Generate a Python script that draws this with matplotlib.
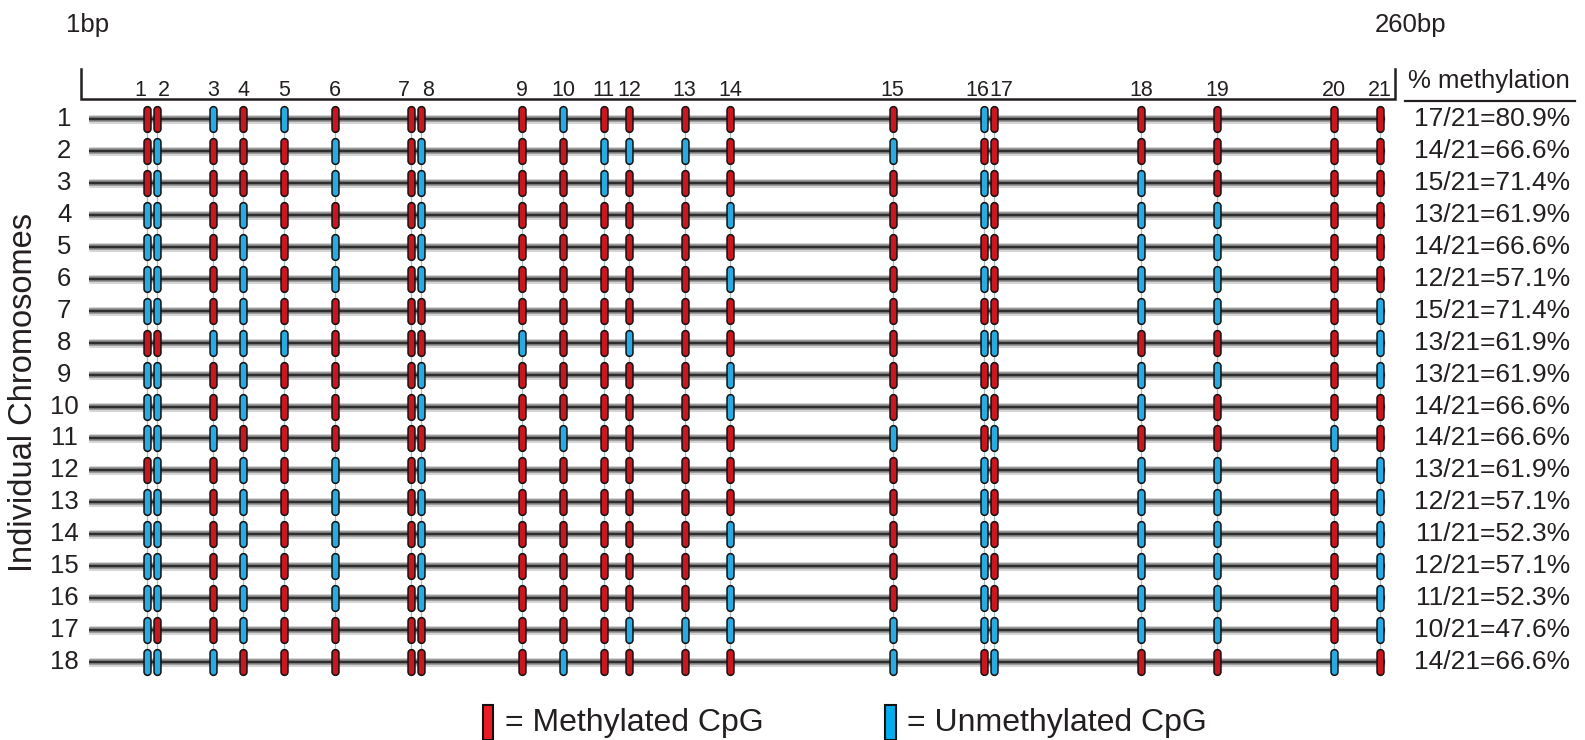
import numpy as np
import matplotlib
matplotlib.use("Agg")
import matplotlib.pyplot as plt
from matplotlib.patches import Rectangle

plt.rcParams['font.family'] = ['Liberation Sans', 'DejaVu Sans']

# CpG site numbers and their position along the 260bp fragment
site_num = list(range(1, 22))
site_bp = [14, 16, 27, 33, 41, 51, 66, 68, 88, 96, 104, 109, 120, 129,
           161, 179, 181, 210, 225, 248, 257]

# one string per chromosome, M = methylated, U = unmethylated (sites 1..21)
chrom_calls = [
    "MMUMUMMMMUMMMMMUMMMMM",
    "MUMMMUMUMMUUUMUMMMMMM",
    "MUMMMUMUMMUMMMMUMUMMM",
    "UUMUMMMUMMMMMUMUMUUMM",
    "UUMUMUMUMMMMMMMMMUUMM",
    "UUMUMUMUMMMMMUMUMUUMM",
    "UUMUMMMMMMMMMMMMMUUMU",
    "MMUUUMMMUMMUMMMUUMMMU",
    "UUMUMMMUMMMMMUMMMUUMU",
    "UUMUMMMUMMMMMUMUMUMMM",
    "UUUMMMMMMUMMMMUMUMMUM",
    "MUMUMUMUMMMMMMMUMUUMU",
    "UUMUMUMUMMMMMMMUMUUMU",
    "UUMUMUMUMMMMMUMUMUUMU",
    "UUMUMUMUMMMMMUMUMUUMU",
    "UUMUMUMUMMMMMUMUMUUMU",
    "UMMUMMMMMMMUUUUUUUUMU",
    "UUUMMMMMMUMMMMUMUMMUM",
]
chrom_labels = [str(i) for i in range(1, 19)]
pct_labels = ["17/21=80.9%", "14/21=66.6%", "15/21=71.4%", "13/21=61.9%",
              "14/21=66.6%", "12/21=57.1%", "15/21=71.4%", "13/21=61.9%",
              "13/21=61.9%", "14/21=66.6%", "14/21=66.6%", "13/21=61.9%",
              "12/21=57.1%", "11/21=52.3%", "12/21=57.1%", "11/21=52.3%",
              "10/21=47.6%", "14/21=66.6%"]

RED = '#c8171e'
BLUE = '#29abe2'
TXT = '#231f20'

fig = plt.figure(figsize=(15.85, 7.4), dpi=100)
ax = fig.add_axes([0, 0, 1, 1])
ax.set_xlim(-14.97, 297.45)
ax.set_ylim(20.44, -2.726)
ax.axis('off')

# capsule shaped marker
r = 0.27
t = np.linspace(0, np.pi, 20)
top = np.column_stack([r * np.cos(t), (1 - r) + r * np.sin(t)])
bot = np.column_stack([-r * np.cos(t), -(1 - r) - r * np.sin(t)])
capsule = np.vstack([top, bot, top[:1]])

rows = np.arange(1, len(chrom_calls) + 1)
px = 0.72  # points per pixel

# chromosome strands (soft grey band with dark core)
for y in rows:
    ax.plot([2.6, 258], [y, y], color='#d4d4d4', lw=9 * px, solid_capstyle='butt', zorder=1)
    ax.plot([2.6, 258], [y, y], color='#8a8a8a', lw=5.5 * px, solid_capstyle='butt', zorder=1)
    ax.plot([2.6, 258], [y, y], color='#2e2e2e', lw=2.4 * px, solid_capstyle='butt', zorder=1)

# faint connectors between sites
ax.vlines(site_bp, rows[0], rows[-1], color='#a9bfbf', lw=1.3 * px, zorder=2)

calls = np.array([list(s) for s in chrom_calls])
for j, x in enumerate(site_bp):
    for i, y in enumerate(rows):
        c = RED if calls[i, j] == 'M' else BLUE
        ax.plot(x, y, marker=capsule, markersize=18.5, color=c,
                markeredgecolor='#111111', markeredgewidth=1.1, ls='none', zorder=3)

# site numbers, nudged apart where two sites sit close together
for k, (n, x) in enumerate(zip(site_num, site_bp)):
    dx = 0
    if k + 1 < len(site_bp) and site_bp[k + 1] - x <= 3:
        dx = -1.4
    if k > 0 and x - site_bp[k - 1] <= 3:
        dx = 1.4
    ax.text(x + dx, 0.1, str(n), ha='center', va='center', fontsize=15.5, color=TXT)

# chromosome numbers and percentages
for y, lab, pct in zip(rows, chrom_labels, pct_labels):
    ax.text(-2.3, y, lab, ha='center', va='center', fontsize=18.5, color=TXT)
    ax.text(294.5, y, pct, ha='right', va='center', fontsize=19, color=TXT)

ax.text(-10.3, 9.55, 'Individual Chromosomes', rotation=90, ha='center',
        va='center', fontsize=23.5, color=TXT)

# header: % methylation
ax.text(278.6, -0.2, '% methylation', ha='center', va='center', fontsize=18.5, color=TXT)
ax.plot([262.0, 295.5], [0.44, 0.44], color=TXT, lw=1.6)

# 1bp - 260bp bracket
ax.plot([1, 1, 260, 260], [-0.566, 0.374, 0.374, -0.566], color=TXT, lw=1.8,
        solid_joinstyle='miter')
ax.text(-2.0, -1.94, '1bp', ha='left', va='center', fontsize=18.5, color=TXT)
ax.text(256.0, -1.94, '260bp', ha='left', va='center', fontsize=18.5, color=TXT)

# legend
ax.add_patch(Rectangle((80.2, 19.35), 2.0, 1.1, facecolor='#ed1c24',
                       edgecolor='#111111', lw=1.5, clip_on=False, zorder=4))
ax.text(84.6, 19.9, '= Methylated CpG', ha='left', va='center', fontsize=23, color=TXT)
ax.add_patch(Rectangle((159.5, 19.35), 2.1, 1.1, facecolor='#00aeef',
                       edgecolor='#111111', lw=1.5, clip_on=False, zorder=4))
ax.text(163.8, 19.9, '= Unmethylated CpG', ha='left', va='center', fontsize=23, color=TXT)

fig.savefig('out.png', dpi=100)
